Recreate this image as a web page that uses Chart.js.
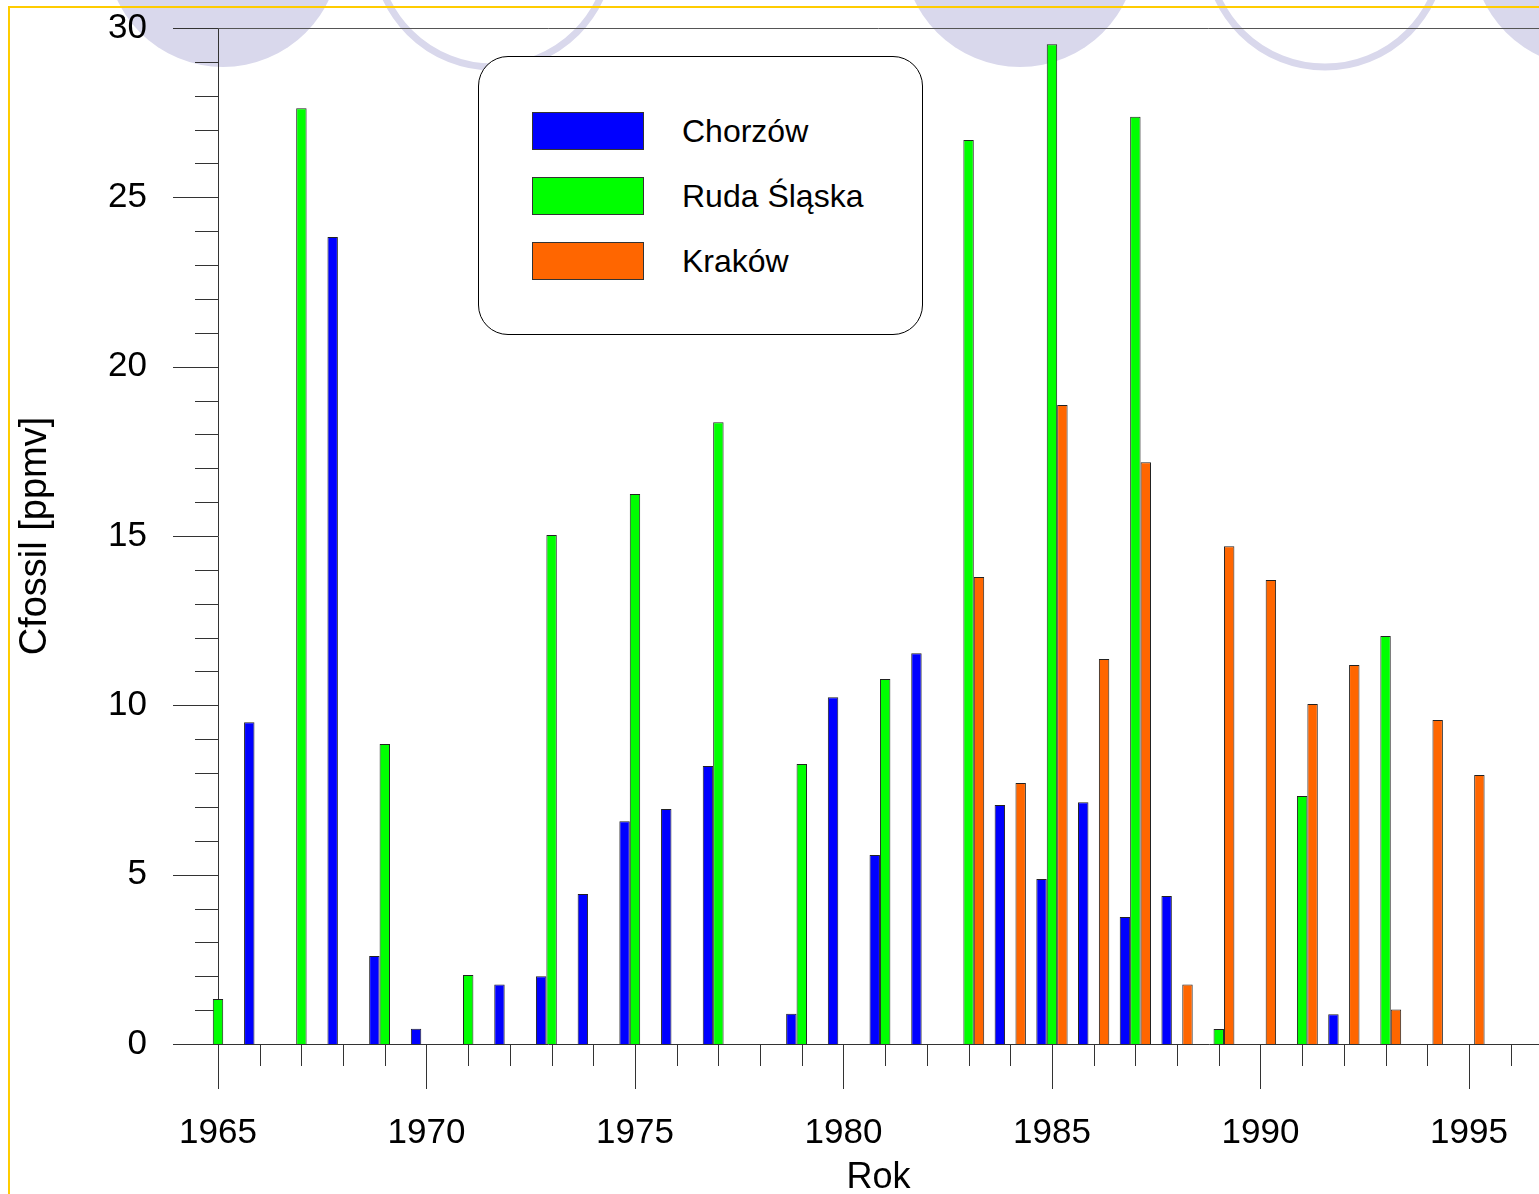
<!DOCTYPE html>
<html>
<head>
<meta charset="utf-8">
<script src="https://cdn.jsdelivr.net/npm/chart.js@4.4.1/dist/chart.umd.min.js"></script>
<style>
html,body{margin:0;padding:0;background:#fff;overflow:hidden}
#wrap{position:relative;width:1539px;height:1194px}
#c{position:absolute;left:0;top:0}
#legend{position:absolute;left:478px;top:56px;width:445px;height:279px;box-sizing:border-box;border:1px solid #000;border-radius:30px;background:#fff;font-family:'Liberation Sans',Arial,sans-serif;font-size:32px;color:#000}
.item{position:absolute;left:53px;height:38px;width:360px}
.sw{position:absolute;left:0;top:0;width:112px;height:38px;box-sizing:border-box;border:1px solid #333}
.lab{position:absolute;left:150px;top:0;line-height:38px;white-space:nowrap}
</style>
</head>
<body>
<div id="wrap">
<canvas id="c" width="1539" height="1194"></canvas>
<div id="legend"></div>
</div>
<script>
// ---- data ----
const years = [1965,1966,1967,1968,1969,1970,1971,1972,1973,1974,1975,1976,1977,1978,1979,1980,
               1981,1982,1983,1984,1985,1986,1987,1988,1989,1990,1991,1992,1993,1994,1995];
const chorzow = [null,9.5,null,23.83,2.6,0.45,null,1.76,2.0,4.43,6.58,6.94,8.21,null,0.89,10.24,
                 5.58,11.54,null,7.06,4.87,7.14,3.75,4.37,null,null,null,0.88,null,null,null];
const rudaSlaska = [1.33,null,27.63,null,8.86,null,2.04,null,15.03,null,16.24,null,18.36,null,8.27,null,
                    10.78,null,26.69,null,29.52,null,27.38,null,0.44,null,7.32,null,12.05,null,null];
const krakow = [null,null,null,null,null,null,null,null,null,null,null,null,null,null,null,null,
                null,null,13.79,7.71,18.87,11.37,17.18,1.76,14.7,13.7,10.04,11.19,1.02,9.57,7.94];
const seriesNames = ['Chorzów','Ruda Śląska','Kraków'];
const seriesColors = ['#0000FF','#00FF00','#FF6600'];
const xTickLabels = [1965,1970,1975,1980,1985,1990,1995];
const yTickLabels = [0,5,10,15,20,25,30];

const FONT = "'Liberation Sans', Arial, sans-serif";
Chart.defaults.font.family = FONT;
Chart.defaults.color = '#000';

function toPoints(vals){
  const out = [];
  vals.forEach((v,i)=>{ if (v !== null) out.push({x: years[i], y: v}); });
  return out;
}

function zeroPad(s){ s.paddingTop = 0; s.paddingBottom = 0; s.paddingLeft = 0; s.paddingRight = 0; }

const deco = {
  id: 'deco',
  beforeDraw(chart){
    const ctx = chart.ctx;
    ctx.save();
    const lav = 'rgb(217,216,236)';
    ctx.fillStyle = lav;
    [[223,-50],[1020,-50],[1589,-50]].forEach(([cx,cy])=>{
      ctx.beginPath(); ctx.arc(cx,cy,117,0,Math.PI*2); ctx.fill();
    });
    ctx.strokeStyle = lav; ctx.lineWidth = 7;
    [[493,-51],[1325,-51]].forEach(([cx,cy])=>{
      ctx.beginPath(); ctx.arc(cx,cy,118,0,Math.PI*2); ctx.stroke();
    });
    ctx.fillStyle = '#FFCC00';
    ctx.fillRect(8,6,1531,2);
    ctx.fillRect(8,6,2,1188);
    ctx.restore();
  },
  beforeDatasetsDraw(chart){
    const {ctx, chartArea, scales:{x, y}} = chart;
    ctx.save();
    ctx.strokeStyle = '#333';
    ctx.lineWidth = 1;
    ctx.beginPath();
    y.ticks.forEach(t=>{
      const py = Math.round(y.getPixelForValue(t.value)) + 0.5;
      const len = yTickLabels.includes(t.value) ? 45 : 23;
      ctx.moveTo(chartArea.left - len, py); ctx.lineTo(chartArea.left, py);
    });
    x.ticks.forEach(t=>{
      const px = Math.round(x.getPixelForValue(t.value)) + 0.5;
      const len = xTickLabels.includes(t.value) ? 45 : 22;
      ctx.moveTo(px, chartArea.bottom); ctx.lineTo(px, chartArea.bottom + len);
    });
    ctx.stroke();
    ctx.strokeStyle = '#555';
    ctx.beginPath();
    const ty = Math.round(y.getPixelForValue(30)) + 0.5;
    ctx.moveTo(chartArea.left, ty); ctx.lineTo(chartArea.right, ty);
    ctx.stroke();
    ctx.restore();
  }
};

const seriesData = [chorzow, rudaSlaska, krakow];
const datasets = seriesData.map((vals,i)=>({
  label: seriesNames[i],
  data: toPoints(vals),
  backgroundColor: seriesColors[i],
  borderColor: '#222',
  borderWidth: 1,
  borderSkipped: 'start',
  categoryPercentage: 0.75,
  barPercentage: 1,
  clip: false
}));

new Chart(document.getElementById('c'), {
  type: 'bar',
  data: { datasets },
  plugins: [deco],
  options: {
    responsive: false,
    animation: false,
    devicePixelRatio: 1,
    layout: { padding: { top: 28, left: 0, right: 0, bottom: 0 } },
    plugins: { legend: { display: false }, tooltip: { enabled: false } },
    scales: {
      x: {
        type: 'linear',
        offset: false,
        min: 1965,
        max: 1996.68,
        afterBuildTicks: s => { s.ticks = []; for (let v = 1965; v <= 1996; v++) s.ticks.push({value: v}); },
        afterFit: s => { s.height = 150; zeroPad(s); },
        grid: { display: false, drawTicks: false, tickLength: 0, offset: false },
        border: { display: true, color: '#333', width: 1 },
        ticks: {
          autoSkip: false, maxRotation: 0, minRotation: 0, padding: 68,
          font: { size: 35 }, color: '#000',
          callback: v => xTickLabels.includes(v) ? String(v) : ''
        },
        title: { display: true, text: 'Rok', color: '#000', font: { size: 36, lineHeight: 0.85 }, padding: { top: 0, bottom: 0.5 } }
      },
      y: {
        min: 0,
        max: 30,
        afterBuildTicks: s => { s.ticks = []; for (let v = 0; v <= 30; v++) s.ticks.push({value: v}); },
        afterFit: s => { s.width = 218; zeroPad(s); },
        grid: { display: false, drawTicks: false, tickLength: 0 },
        border: { display: true, color: '#333', width: 1 },
        ticks: {
          autoSkip: false, padding: 71,
          font: { size: 35 }, color: '#000',
          callback: v => yTickLabels.includes(v) ? String(v) : ''
        },
        title: { display: true, text: 'Cfossil [ppmv]', color: '#000', font: { size: 38 }, padding: { top: 13, bottom: 0 } }
      }
    }
  }
});

// legend built from series arrays
const legend = document.getElementById('legend');
seriesNames.forEach((name,i)=>{
  const item = document.createElement('div');
  item.className = 'item';
  item.style.top = (55 + i*65) + 'px';
  const sw = document.createElement('div');
  sw.className = 'sw';
  sw.style.background = seriesColors[i];
  const lab = document.createElement('div');
  lab.className = 'lab';
  lab.textContent = name;
  item.appendChild(sw); item.appendChild(lab);
  legend.appendChild(item);
});
</script>
</body>
</html>
